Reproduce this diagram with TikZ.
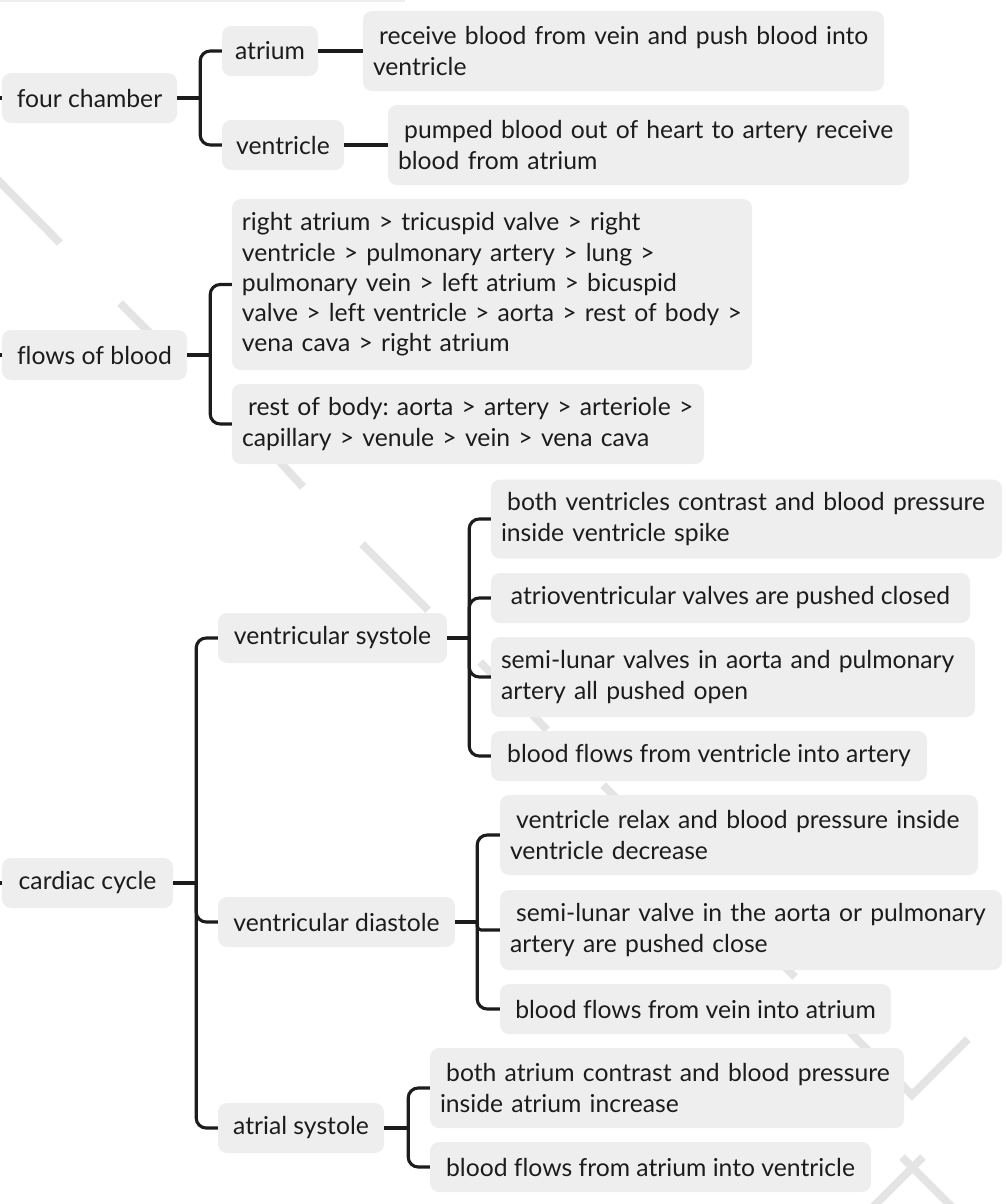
\documentclass[tikz,border=0pt]{standalone}
\usepackage{fontspec}
\setmainfont{Lato}[Ligatures=NoCommon]
\usetikzlibrary{calc}
\definecolor{boxgray}{HTML}{EEEEEE}
\definecolor{ink}{HTML}{1C1C1C}
\definecolor{wm}{HTML}{E4E4E4}
\newcommand{\txl}[1]{\mbox{#1}}
\frenchspacing
\tikzset{
  bx/.style={rectangle, fill=boxgray, rounded corners=9bp, inner ysep=0pt, align=left,
    text=ink, font=\fontsize{24.8}{30.3}\selectfont\frenchspacing, anchor=center},
  sbx/.style={bx, minimum height=50bp, inner xsep=0pt},
  conn/.style={draw=ink, line width=3.1bp, rounded corners=10bp},
  stub/.style={draw=ink, line width=3.1bp},
  wmline/.style={draw=wm, line width=8bp}
}
\begin{document}
\begin{tikzpicture}[x=1bp,y=-1bp]
\useasboundingbox (0,0) rectangle (1006,1204);
\clip (0,0) rectangle (1006,1204);
% watermark strokes
\draw[wmline] (-5,177) -- (60,243);
\draw[wmline] (120,303) -- (150,333);
\draw[wmline] (280,462) -- (303,487);
\draw[wmline] (362,544) -- (428,610);
\draw[wmline] (480,662) -- (495,677);
\draw[wmline] (528,710) -- (547,730);
\draw[wmline] (603,785) -- (617,799);
\draw[wmline] (780,962) -- (795,977);
\draw[wmline] (850,1032) -- (912,1095) -- (968,1039);
\draw[wmline] (923,1157) -- (870,1210);
\draw[wmline] (902,1157) -- (955,1210);
% box fragment at top edge
\fill[boxgray] (-20,-40) rectangle (405,1.5);

% nodes
\node[sbx, minimum width=175bp] (fc) at (89.5,98) {four chamber};
\node[sbx, minimum width=96bp] (at) at (270,51) {atrium};
\node[sbx, minimum width=122bp] (ve) at (283,145) {ventricle};
\node[bx, minimum height=80bp, text width=501bp, inner xsep=10bp] (rv) at (623.5,51) {\txl{\hspace*{0.25em}receive blood from vein and push blood into}\\\txl{ventricle}};
\node[bx, minimum height=80bp, text width=501bp, inner xsep=10bp] (pu) at (648.5,145) {\txl{\hspace*{0.25em}pumped blood out of heart to artery receive}\\\txl{blood from atrium}};

\node[sbx, minimum width=185bp] (fb) at (94.5,355) {flows of blood};
\node[bx, minimum height=171bp, text width=500bp, inner xsep=10bp] (f1) at (492,284.5) {\txl{right atrium > tricuspid valve > right}\\\txl{ventricle > pulmonary artery > lung >}\\\txl{pulmonary vein > left atrium > bicuspid}\\\txl{valve > left ventricle > aorta > rest of body >}\\\txl{vena cava > right atrium}};
\node[bx, minimum height=80bp, text width=452bp, inner xsep=10bp] (f2) at (468,424) {\txl{\hspace*{0.25em}rest of body: aorta > artery > arteriole >}\\\txl{capillary > venule > vein > vena cava}};

\node[sbx, minimum width=171bp] (cc) at (87.5,883) {cardiac cycle};
\node[sbx, minimum width=229bp] (vs) at (332.5,638) {ventricular systole};
\node[sbx, minimum width=237bp] (vd) at (336.5,922) {ventricular diastole};
\node[sbx, minimum width=166bp] (as) at (301,1128) {atrial systole};

\node[bx, minimum height=79bp, text width=491bp, inner xsep=10bp] (c1) at (746.5,519) {\txl{\hspace*{0.25em}both ventricles contrast and blood pressure}\\\txl{inside ventricle spike}};
\node[sbx, minimum width=479bp] (c2) at (730.5,598) {atrioventricular valves are pushed closed};
\node[bx, minimum height=80bp, text width=464bp, inner xsep=10bp] (c3) at (733,677) {\txl{semi-lunar valves in aorta and pulmonary}\\\txl{artery all pushed open}};
\node[sbx, minimum width=436bp] (c4) at (709,756) {blood flows from ventricle into artery};

\node[bx, minimum height=80bp, text width=458bp, inner xsep=10bp] (d1) at (739,835) {\txl{\hspace*{0.25em}ventricle relax and blood pressure inside}\\\txl{ventricle decrease}};
\node[bx, minimum height=80bp, text width=482bp, inner xsep=10bp] (d2) at (751,930) {\txl{\hspace*{0.25em}semi-lunar valve in the aorta or pulmonary}\\\txl{artery are pushed close}};
\node[sbx, minimum width=391bp] (d3) at (695.5,1009) {blood flows from vein into atrium};

\node[bx, minimum height=80bp, text width=454bp, inner xsep=10bp] (a1) at (667,1088) {\txl{\hspace*{0.25em}both atrium contrast and blood pressure}\\\txl{inside atrium increase}};
\node[sbx, minimum width=441bp] (a2) at (650.5,1167) {blood flows from atrium into ventricle};

% free ends at the left edge
\coordinate (e1) at (-10,98);
\coordinate (e2) at (-10,355);
\coordinate (e3) at (-10,883);
\draw[stub] (e1) -- (fc.west);
\draw[stub] (e2) -- (fb.west);
\draw[stub] (e3) -- (cc.west);

% junctions
\coordinate (j1) at ($(fc.east)+(23,0)$);
\coordinate (j2) at ($(fb.east)+(23,0)$);
\coordinate (j3) at ($(cc.east)+(23,0)$);
\coordinate (j4) at ($(vs.east)+(22,0)$);
\coordinate (j5) at ($(vd.east)+(22,0)$);
\coordinate (j6) at ($(as.east)+(24,0)$);

\draw[stub] (fc.east) -- (j1);
\draw[conn] (j1) |- (at.west);
\draw[conn] (j1) |- (ve.west);
\draw[stub] (at.east) -- (rv.west);
\draw[stub] (ve.east) -- (pu.west);

\draw[stub] (fb.east) -- (j2);
\draw[conn] (j2) |- (f1.west);
\draw[conn] (j2) |- (f2.west);

\draw[stub] (cc.east) -- (j3);
\draw[conn] (j3) |- (vs.west);
\draw[conn] (j3) |- (vd.west);
\draw[conn] (j3) |- (as.west);

\draw[stub] (vs.east) -- (j4);
\draw[conn] (j4) |- (c1.west);
\draw[conn] (j4) |- (c2.west);
\draw[conn] (j4) |- (c3.west);
\draw[conn] (j4) |- (c4.west);

\draw[stub] (vd.east) -- (j5);
\draw[conn] (j5) |- (d1.west);
\draw[conn, rounded corners=4bp] (j5) |- (d2.west);
\draw[conn] (j5) |- (d3.west);

\draw[stub] (as.east) -- (j6);
\draw[conn] (j6) |- (a1.west);
\draw[conn] (j6) |- (a2.west);
\end{tikzpicture}
\end{document}
